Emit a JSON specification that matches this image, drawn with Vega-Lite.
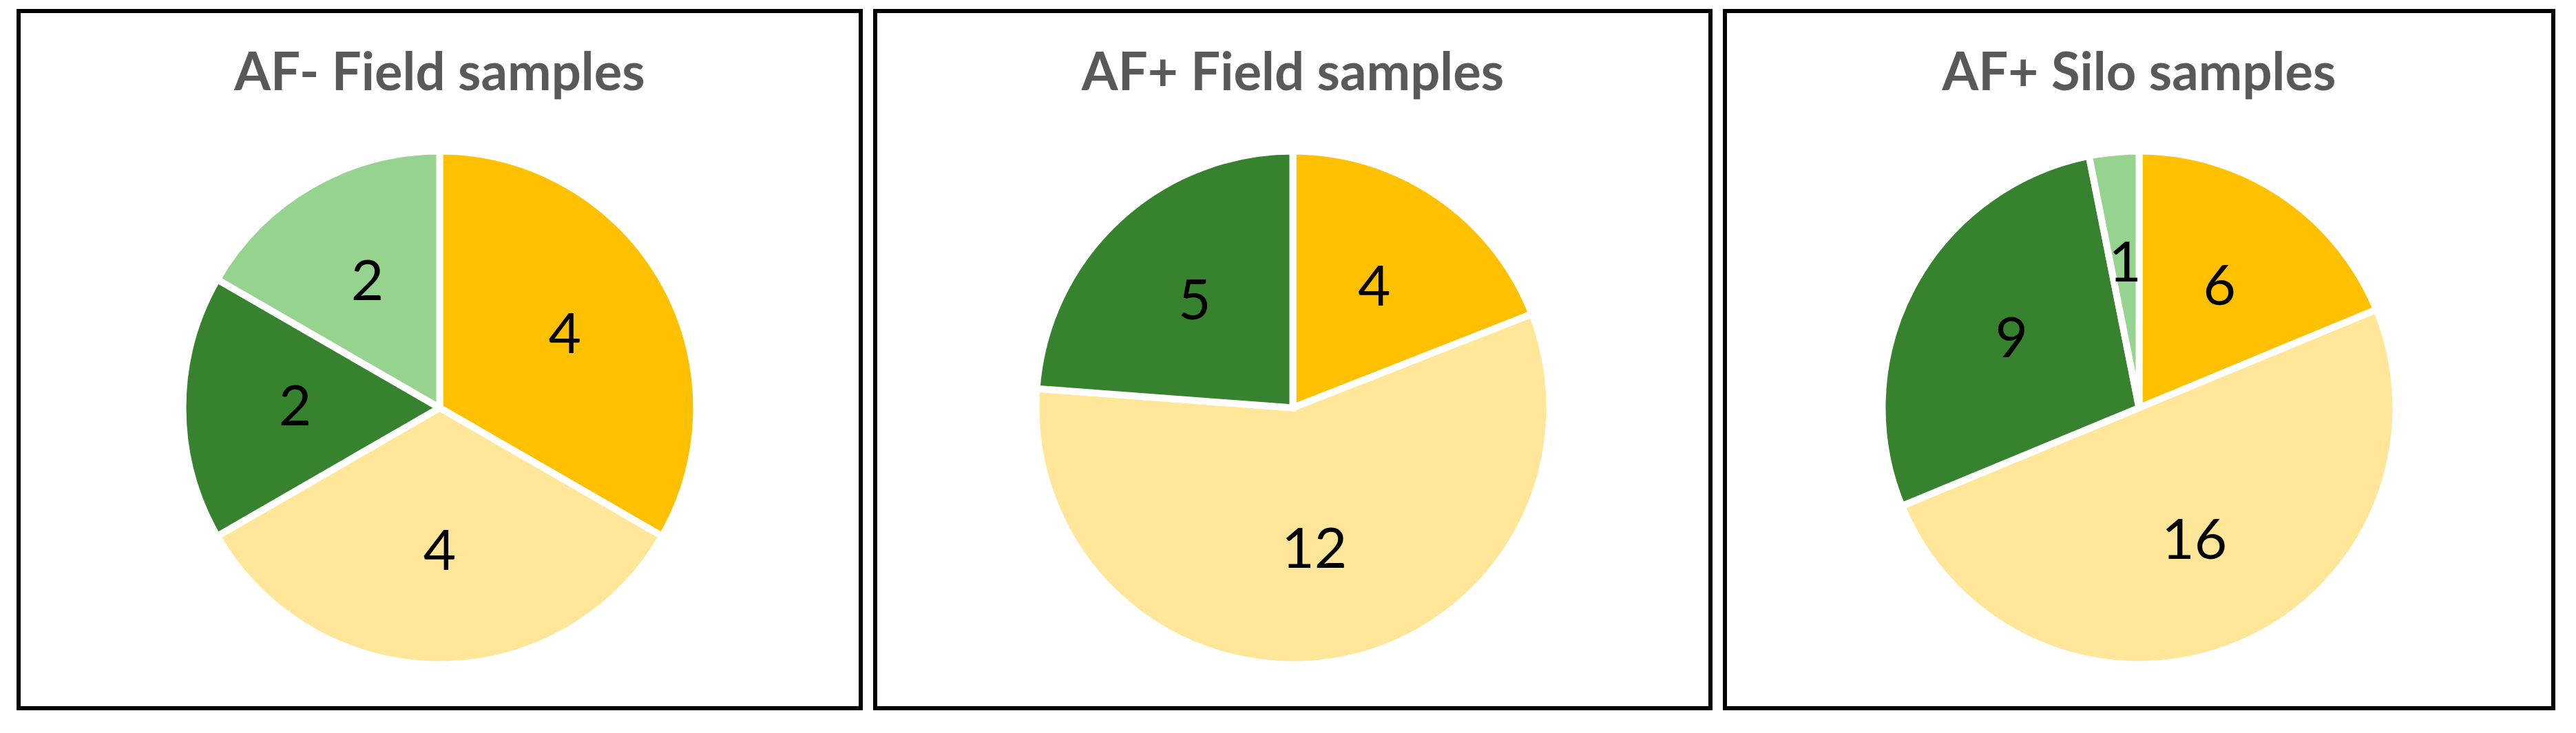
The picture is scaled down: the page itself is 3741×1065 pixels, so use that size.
{
  "$schema": "https://vega.github.io/schema/vega-lite/v6.json",
  "background": "white",
  "padding": {"left": 24, "top": 13, "right": 0, "bottom": 0},
  "autosize": {"type": "pad"},
  "config": {
    "view": {"stroke": "black", "strokeWidth": 6},
    "title": {"font": "Lato", "fontSize": 76, "fontWeight": "bold", "color": "#595959", "anchor": "middle", "offset": -131, "baseline": "alphabetic"}
  },
  "data": {
    "values": [
      {"panel": "AF- Field samples", "category": "Type 1", "rank": 1, "count": 4},
      {"panel": "AF- Field samples", "category": "Type 2", "rank": 2, "count": 4},
      {"panel": "AF- Field samples", "category": "Type 3", "rank": 3, "count": 2},
      {"panel": "AF- Field samples", "category": "Type 4", "rank": 4, "count": 2},
      {"panel": "AF+ Field samples", "category": "Type 1", "rank": 1, "count": 4},
      {"panel": "AF+ Field samples", "category": "Type 2", "rank": 2, "count": 12},
      {"panel": "AF+ Field samples", "category": "Type 3", "rank": 3, "count": 5},
      {"panel": "AF+ Silo samples", "category": "Type 1", "rank": 1, "count": 6},
      {"panel": "AF+ Silo samples", "category": "Type 2", "rank": 2, "count": 16},
      {"panel": "AF+ Silo samples", "category": "Type 3", "rank": 3, "count": 9},
      {"panel": "AF+ Silo samples", "category": "Type 4", "rank": 4, "count": 1}
    ]
  },
  "spacing": 15,
  "hconcat": [
    {
      "width": 1223, "height": 1013,
      "view": {"stroke": "black", "strokeWidth": 6, "fill": "white"},
      "title": {"text": "AF- Field samples"},
      "transform": [{"filter": "datum.panel === 'AF- Field samples'"}],
      "encoding": {
        "theta": {"field": "count", "type": "quantitative", "stack": true},
        "order": {"field": "rank", "type": "quantitative"},
        "color": {"field": "category", "type": "nominal", "legend": null,
          "scale": {"domain": ["Type 1", "Type 2", "Type 3", "Type 4"], "range": ["#FFC000", "#FFE699", "#36822F", "#96D38E"]}}
      },
      "layer": [
        {"mark": {"type": "arc", "outerRadius": 373, "stroke": "white", "strokeWidth": 10, "x": 611.5, "y": 576.5}},
        {"mark": {"type": "text", "radius": 210, "font": "Lato", "fontSize": 82, "baseline": "middle", "align": "center", "x": 611.5, "y": 576.5},
         "encoding": {"text": {"field": "count", "type": "quantitative"}, "color": {"value": "black"}}}
      ]
    },
    {
      "width": 1213, "height": 1013,
      "view": {"stroke": "black", "strokeWidth": 6, "fill": "white"},
      "title": {"text": "AF+ Field samples"},
      "transform": [{"filter": "datum.panel === 'AF+ Field samples'"}],
      "encoding": {
        "theta": {"field": "count", "type": "quantitative", "stack": true},
        "order": {"field": "rank", "type": "quantitative"},
        "color": {"field": "category", "type": "nominal", "legend": null,
          "scale": {"domain": ["Type 1", "Type 2", "Type 3", "Type 4"], "range": ["#FFC000", "#FFE699", "#36822F", "#96D38E"]}}
      },
      "layer": [
        {"mark": {"type": "arc", "outerRadius": 373, "stroke": "white", "strokeWidth": 10, "x": 606.5, "y": 576.5}},
        {"mark": {"type": "text", "radius": 210, "font": "Lato", "fontSize": 82, "baseline": "middle", "align": "center", "x": 606.5, "y": 576.5},
         "encoding": {"text": {"field": "count", "type": "quantitative"}, "color": {"value": "black"}}}
      ]
    },
    {
      "width": 1203, "height": 1013,
      "view": {"stroke": "black", "strokeWidth": 6, "fill": "white"},
      "title": {"text": "AF+ Silo samples"},
      "transform": [{"filter": "datum.panel === 'AF+ Silo samples'"}],
      "encoding": {
        "theta": {"field": "count", "type": "quantitative", "stack": true},
        "order": {"field": "rank", "type": "quantitative"},
        "color": {"field": "category", "type": "nominal", "legend": null,
          "scale": {"domain": ["Type 1", "Type 2", "Type 3", "Type 4"], "range": ["#FFC000", "#FFE699", "#36822F", "#96D38E"]}}
      },
      "layer": [
        {"mark": {"type": "arc", "outerRadius": 373, "stroke": "white", "strokeWidth": 10, "x": 601.5, "y": 576.5}},
        {"mark": {"type": "text", "radius": 210, "font": "Lato", "fontSize": 82, "baseline": "middle", "align": "center", "x": 601.5, "y": 576.5},
         "encoding": {"text": {"field": "count", "type": "quantitative"}, "color": {"value": "black"}}}
      ]
    }
  ]
}
